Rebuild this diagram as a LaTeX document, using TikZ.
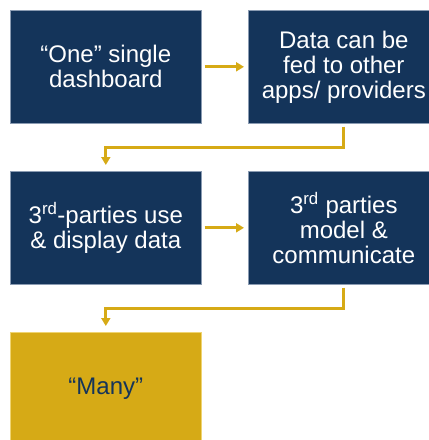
\documentclass[tikz,border=0pt]{standalone}
\usepackage{fontspec}
\setmainfont{Liberation Sans}
\usetikzlibrary{arrows.meta}
\definecolor{navy}{HTML}{14345A}
\definecolor{gold}{HTML}{D6AA16}
\definecolor{navyedge}{HTML}{8A9BB2}
\definecolor{goldedge}{HTML}{EFD472}
\begin{document}
\begin{tikzpicture}[x=1pt,y=-1pt,
 box/.style={minimum width=191pt, minimum height=113pt, inner sep=0pt, align=center,
   font=\fontsize{24}{25}\selectfont, anchor=north west, line width=0.6pt},
 navybox/.style={box, fill=navy, draw=navyedge, text=white},
 goldbox/.style={box, fill=gold, draw=goldedge, text=navy},
 flow/.style={draw=gold, line width=2.8pt, -{Triangle[length=8pt,width=9pt]}}]
\useasboundingbox (0,0) rectangle (429,440);
\clip (0,0) rectangle (429,440);
\node[navybox] (a) at (10,10) {“One” single\\dashboard};
\node[navybox] (b) at (248,10) {Data can be\\fed to other\\apps/ providers};
\node[navybox] (c) at (10,171) {3\textsuperscript{rd}-parties use\\\& display data};
\node[navybox] (d) at (248,171) {3\textsuperscript{rd} parties\\model \&\\communicate};
\node[goldbox] (e) at (10,332) {“Many”};
\draw[flow, shorten <=3pt, shorten >=4pt] (a.east) -- (b.west);
\draw[flow, shorten <=3pt, shorten >=4pt] (c.east) -- (d.west);
\draw[flow, shorten >=6pt] ([yshift=-3pt]b.south) -- ++(0,21) -| (c.north);
\draw[flow, shorten >=6pt] ([yshift=-3pt]d.south) -- ++(0,21) -| (e.north);
\end{tikzpicture}
\end{document}
